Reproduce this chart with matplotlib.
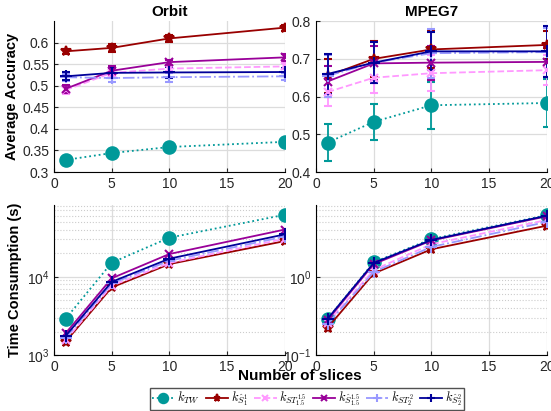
import matplotlib
matplotlib.use("Agg")
import matplotlib.pyplot as plt
from matplotlib.ticker import LogLocator, NullFormatter

plt.rcParams['font.family'] = ['Liberation Sans', 'DejaVu Sans']
plt.rcParams['mathtext.fontset'] = 'cm'

slices = [1, 5, 10, 20]
labels = [r'$k_{TW}$', r'$k_{\hat{S}^1_1}$', r'$k_{ST^{1.5}_{1.5}}$',
          r'$k_{\hat{S}^{1.5}_{1.5}}$', r'$k_{ST^2_2}$', r'$k_{\hat{S}^2_2}$']

# accuracy (mean, std) on Orbit
orbit_acc = [
    [0.328, 0.344, 0.358, 0.370],
    [0.580, 0.588, 0.610, 0.635],
    [0.490, 0.530, 0.540, 0.545],
    [0.493, 0.535, 0.555, 0.566],
    [0.520, 0.518, 0.520, 0.522],
    [0.522, 0.530, 0.531, 0.532],
]
orbit_err = [
    [0.002, 0.003, 0.003, 0.003],
    [0.006, 0.010, 0.008, 0.007],
    [0.008, 0.008, 0.006, 0.007],
    [0.010, 0.010, 0.006, 0.008],
    [0.008, 0.010, 0.010, 0.008],
    [0.009, 0.012, 0.012, 0.010],
]

# accuracy (mean, std) on MPEG7
mpeg_acc = [
    [0.478, 0.533, 0.577, 0.583],
    [0.655, 0.700, 0.725, 0.737],
    [0.612, 0.650, 0.662, 0.670],
    [0.640, 0.688, 0.690, 0.692],
    [0.655, 0.690, 0.715, 0.718],
    [0.660, 0.690, 0.720, 0.720],
]
mpeg_err = [
    [0.048, 0.048, 0.062, 0.063],
    [0.045, 0.048, 0.050, 0.038],
    [0.038, 0.040, 0.048, 0.040],
    [0.040, 0.045, 0.045, 0.040],
    [0.055, 0.055, 0.065, 0.065],
    [0.054, 0.055, 0.050, 0.068],
]

# time consumption (s)
orbit_time = [
    [2900, 15100, 31500, 61700],
    [1480, 7300, 14500, 28500],
    [1550, 7700, 15000, 30500],
    [1890, 9550, 19500, 40000],
    [1650, 8200, 16000, 32500],
    [1750, 8600, 17000, 34700],
]
mpeg_time = [
    [0.288, 1.53, 3.03, 6.1],
    [0.223, 1.10, 2.24, 4.48],
    [0.26, 1.22, 2.60, 5.3],
    [0.28, 1.45, 2.90, 5.9],
    [0.25, 1.15, 2.40, 5.0],
    [0.29, 1.50, 2.95, 6.0],
]

colors = ['#009999', '#990000', '#ff99ff', '#990099', '#9999ff', '#000099']
markers = ['o', '*', 'x', 'x', '+', '+']
styles = [':', '-', '--', '-', '-.', '-']
msizes = [9, 7, 6, 6, 8, 8]

fig = plt.figure(figsize=(5.51, 4.11), dpi=100)
ax1 = fig.add_axes([0.098, 0.5815, 0.419, 0.367])
ax2 = fig.add_axes([0.5735, 0.5815, 0.419, 0.367])
ax3 = fig.add_axes([0.098, 0.136, 0.419, 0.365])
ax4 = fig.add_axes([0.5735, 0.136, 0.419, 0.365])

handles = []
for i in range(6):
    kw = dict(color=colors[i], marker=markers[i], linestyle=styles[i],
              markersize=msizes[i], linewidth=1.3, markeredgewidth=1.5)
    ax1.errorbar(slices, orbit_acc[i], yerr=orbit_err[i], capsize=3,
                 elinewidth=1.3, capthick=1.3, **kw)
    ax2.errorbar(slices, mpeg_acc[i], yerr=mpeg_err[i], capsize=3,
                 elinewidth=1.3, capthick=1.3, **kw)
    h, = ax3.plot(slices, orbit_time[i], **kw)
    ax4.plot(slices, mpeg_time[i], **kw)
    handles.append(h)

ax1.set_ylim(0.3, 0.65)
ax1.set_yticks([0.3, 0.35, 0.4, 0.45, 0.5, 0.55, 0.6])
ax1.set_yticklabels(['0.3', '0.35', '0.4', '0.45', '0.5', '0.55', '0.6'])
ax2.set_ylim(0.4, 0.8)
ax2.set_yticks([0.4, 0.5, 0.6, 0.7, 0.8])
ax3.set_yscale('log')
ax3.set_ylim(1e3, 8.2e4)
ax4.set_yscale('log')
ax4.set_ylim(1e-1, 8.2)

for ax in [ax1, ax2, ax3, ax4]:
    ax.set_xlim(0, 20)
    ax.set_xticks([0, 5, 10, 15, 20])
    ax.spines['top'].set_visible(False)
    ax.spines['right'].set_visible(False)
    ax.tick_params(labelsize=10, colors='#262626', direction='in', length=3)
    ax.grid(True, which='major', color='#dcdcdc', linewidth=0.9)
    ax.set_axisbelow(True)

for ax in [ax3, ax4]:
    ax.yaxis.set_minor_locator(LogLocator(base=10, subs=range(2, 10)))
    ax.yaxis.set_minor_formatter(NullFormatter())
    ax.grid(True, which='minor', axis='y', color='#cccccc', linestyle=':', linewidth=0.8)
    ax.tick_params(which='minor', length=0)

ax1.set_title('Orbit', fontsize=11, fontweight='bold', pad=4)
ax2.set_title('MPEG7', fontsize=11, fontweight='bold', pad=4)
ax1.set_ylabel('Average Accuracy', fontsize=10.5, fontweight='bold')
ax3.set_ylabel('Time Consumption (s)', fontsize=10.5, fontweight='bold')
ax1.yaxis.set_label_coords(-0.15, 0.5)
ax3.yaxis.set_label_coords(-0.14, 0.5)
fig.text(0.545, 0.085, 'Number of slices', fontsize=11, fontweight='bold',
         ha='center', va='center')

fig.legend(handles, labels, loc='center', bbox_to_anchor=(0.557, 0.029),
           ncol=6, fontsize=9, frameon=True, fancybox=False, edgecolor='#262626',
           handlelength=1.8, handletextpad=0.2, columnspacing=0.5,
           borderpad=0.15, markerscale=0.75)

fig.savefig('out.png', dpi=100)
